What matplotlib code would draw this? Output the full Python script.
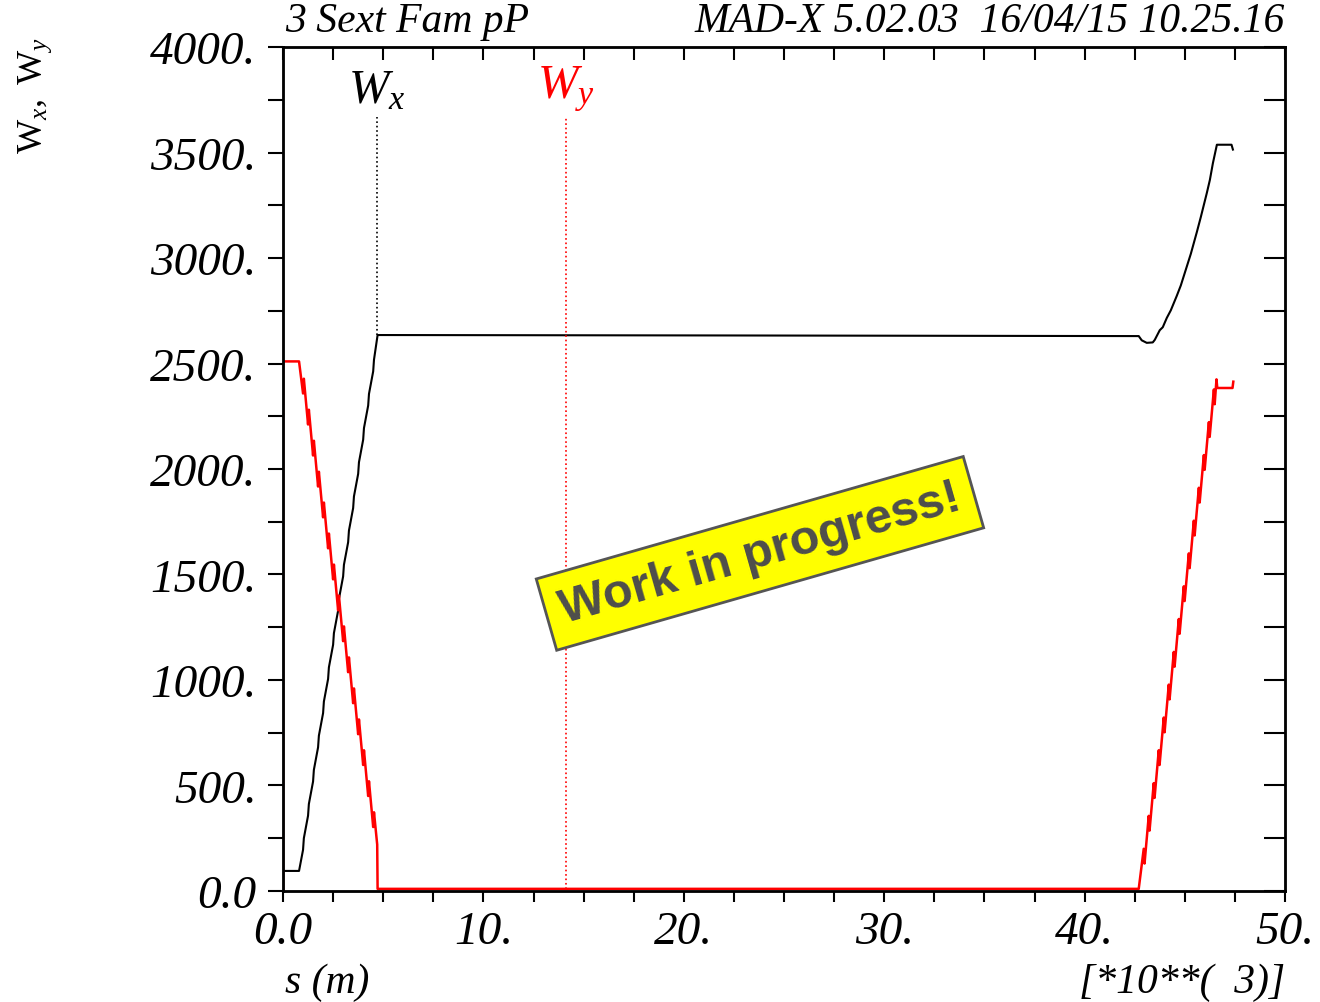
import matplotlib
matplotlib.use("Agg")
import matplotlib.pyplot as plt
from matplotlib.ticker import MultipleLocator, FuncFormatter

plt.rcParams['font.family'] = ['Liberation Serif', 'DejaVu Serif']
plt.rcParams['mathtext.fontset'] = 'custom'
plt.rcParams['mathtext.rm'] = 'Liberation Serif'
plt.rcParams['mathtext.it'] = 'Liberation Serif:italic'

# s in units of 10**3 m
s_wx = [0.0, 0.0, 0.8, 1.0, 1.04, 1.25, 1.29, 1.5, 1.54, 1.75, 1.79, 2.0, 2.04,
        2.25, 2.29, 2.5, 2.54, 2.75, 2.79, 3.0, 3.04, 3.25, 3.29, 3.5, 3.54,
        3.75, 3.79, 4.0, 4.04, 4.25, 4.29, 4.5, 4.54, 4.72,
        22.0, 42.7, 42.85, 43.1, 43.4, 43.5, 43.75, 43.9, 44.1, 44.3, 44.6,
        44.8, 45.1, 45.3, 45.6, 45.8, 46.1, 46.25, 46.4, 46.6, 47.33, 47.4]
wx = [0, 95, 95, 195, 250, 357, 412, 519, 574, 681, 736, 843, 898,
      1005, 1060, 1167, 1222, 1329, 1384, 1491, 1546, 1653, 1708, 1815, 1870,
      1977, 2032, 2139, 2194, 2301, 2356, 2463, 2518, 2635,
      2633, 2630, 2610, 2598, 2600, 2612, 2658, 2672, 2716, 2752, 2821,
      2870, 2960, 3020, 3123, 3195, 3309, 3370, 3449, 3537, 3537, 3514]

s_wy = [0.0, 0.0, 0.8, 1.0, 1.04, 1.25, 1.29, 1.5, 1.54, 1.75, 1.79, 2.0, 2.04,
        2.25, 2.29, 2.5, 2.54, 2.75, 2.79, 3.0, 3.04, 3.25, 3.29, 3.5, 3.54,
        3.75, 3.79, 4.0, 4.04, 4.25, 4.29, 4.5, 4.54, 4.7, 4.72,
        42.7, 42.95, 42.99, 43.2, 43.24, 43.45, 43.49, 43.7, 43.74, 43.95, 43.99,
        44.2, 44.24, 44.45, 44.49, 44.7, 44.74, 44.95, 44.99, 45.2, 45.24,
        45.45, 45.49, 45.7, 45.74, 45.95, 45.99, 46.2, 46.24, 46.45, 46.49,
        46.58, 46.62, 47.38, 47.42]
wy = [0, 2510, 2510, 2358, 2428, 2211, 2281, 2064, 2134, 1917, 1987, 1771, 1841,
      1624, 1694, 1477, 1547, 1330, 1400, 1184, 1254, 1037, 1107, 890, 960,
      743, 813, 597, 667, 450, 520, 303, 373, 220, 10,
      10, 200, 130, 356, 286, 511, 441, 667, 597, 822, 752,
      978, 908, 1133, 1063, 1289, 1219, 1444, 1374, 1600, 1530,
      1755, 1685, 1911, 1841, 2066, 1996, 2222, 2152, 2377, 2307,
      2425, 2384, 2384, 2414]

label_s = [4.69, 14.12]
label_top = 3668
label_curve = [2635, 10]

fig = plt.figure(figsize=(13.2, 10.03), dpi=100)
ax = fig.add_axes([0.2144, 0.1107, 0.7591, 0.8414])

ax.plot(s_wx, wx, color='black', lw=1.5)
ax.plot(s_wy, wy, color='red', lw=1.8)

# dotted leaders from the curve labels
ax.plot([label_s[0], label_s[0]], [label_curve[0], label_top], color='black', ls=':', lw=1.2)
ax.plot([label_s[1], label_s[1]], [label_curve[1], label_top], color='red', ls=':', lw=1.2)
ax.text(label_s[0], label_top + 20, r'$W_x$', fontsize=35, ha='center', va='bottom', color='black')
ax.text(label_s[1], label_top + 20, r'$W_y$', fontsize=35, ha='center', va='bottom', color='red')

ax.set_xlim(0, 50)
ax.set_ylim(0, 4000)
ax.xaxis.set_major_locator(MultipleLocator(10))
ax.xaxis.set_minor_locator(MultipleLocator(2.5))
ax.yaxis.set_major_locator(MultipleLocator(500))
ax.yaxis.set_minor_locator(MultipleLocator(250))
fmt = FuncFormatter(lambda v, p: '0.0' if v == 0 else f'{v:.0f}.')
ax.xaxis.set_major_formatter(fmt)
ax.yaxis.set_major_formatter(fmt)

for sp in ax.spines.values():
    sp.set_linewidth(2)

ax.tick_params(which='both', direction='out', width=1.5, labelsize=34)
ax.tick_params(which='both', axis='y', length=11, pad=8)
ax.tick_params(which='both', axis='x', length=8, pad=6)
for lab in ax.get_xticklabels() + ax.get_yticklabels():
    lab.set_fontstyle('italic')

# inward ticks on the top and right sides
axr = ax.twinx()
axr.set_ylim(ax.get_ylim())
axr.yaxis.set_major_locator(MultipleLocator(500))
axr.yaxis.set_minor_locator(MultipleLocator(250))
axr.tick_params(which='both', direction='in', length=15, width=1.5, labelright=False)
axt = ax.twiny()
axt.set_xlim(ax.get_xlim())
axt.xaxis.set_major_locator(MultipleLocator(10))
axt.xaxis.set_minor_locator(MultipleLocator(2.5))
axt.tick_params(which='both', direction='in', length=9, width=1.5, labeltop=False)

ax.text(0.002, 1.008, '3 Sext Fam pP', transform=ax.transAxes, fontsize=30,
        style='italic', ha='left', va='bottom')
ax.text(1.0, 1.008, 'MAD-X 5.02.03  16/04/15 10.25.16', transform=ax.transAxes,
        fontsize=30, style='italic', ha='right', va='bottom')
ax.text(0.002, -0.085, 's (m)', transform=ax.transAxes, fontsize=30,
        style='italic', ha='left', va='top')
ax.text(1.0, -0.085, '[*10**(  3)]', transform=ax.transAxes, fontsize=30,
        style='italic', ha='right', va='top')
fig.text(0.027, 0.905, r'$\mathrm{W}_x,\ \mathrm{W}_y$', fontsize=26, rotation=90,
         ha='center', va='center')

ax.text(23.8, 1600, 'Work in progress!', rotation=16, fontsize=35, fontweight='bold',
        family='Liberation Sans', color='#4d4d4d', ha='center', va='center',
        rotation_mode='anchor',
        bbox=dict(boxstyle='square,pad=0.3', fc='#ffff00', ec='#555555', lw=2))

fig.savefig('out.png', dpi=100)
